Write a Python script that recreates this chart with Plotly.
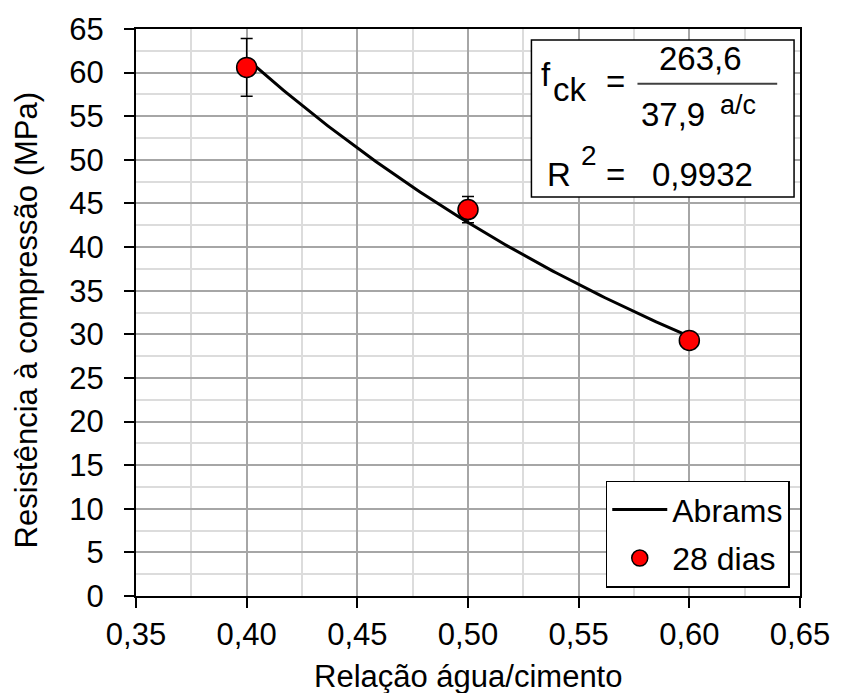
import numpy as np
import plotly.graph_objects as go

# Measured compressive strength at 28 days versus water/cement ratio
ac_ratio = [0.40, 0.50, 0.60]
fc_28 = [60.6, 44.3, 29.3]
fc_28_err = [3.3, 1.5, 0.0]

# Abrams' law fit: fck = A / B^(a/c)
abrams_A = 263.6
abrams_B = 37.9
abrams_r2 = 0.9932

x_tickvals = [0.35, 0.40, 0.45, 0.50, 0.55, 0.60, 0.65]
y_tickvals = list(range(0, 70, 5))

FONT = "Liberation Sans, Arial, sans-serif"
FS = 31
FS_EQ = 33

x_fit = np.linspace(min(ac_ratio), max(ac_ratio), 121)
y_fit = abrams_A / abrams_B ** x_fit

fig = go.Figure()
fig.add_trace(go.Scatter(
    x=x_fit, y=y_fit, mode="lines", name="Abrams",
    line=dict(color="black", width=3),
    legendgroup="a",
))
fig.add_trace(go.Scatter(
    x=ac_ratio, y=fc_28, mode="markers", name="28 dias",
    marker=dict(color="#ff0000", size=20, line=dict(color="black", width=1.5)),
    error_y=dict(type="data", array=fc_28_err, visible=True,
                 color="black", thickness=1.5, width=6),
    legendgroup="b",
))

# plot area in pixels: x 136..806, y 26..596
L, R, T, B = 136, 806, 26, 596
W, H = R - L, B - T


def px(x):
    return (x - L) / W


def py(y):
    return (B - y) / H


def txt(x, y, s, size=FS_EQ, xanchor="center"):
    return dict(x=px(x), y=py(y), xref="paper", yref="paper", text=s,
                showarrow=False, xanchor=xanchor, yanchor="middle",
                font=dict(family=FONT, size=size, color="black"))


def dec(v, n):
    return f"{v:.{n}f}".replace(".", ",")


annotations = [
    # axis titles
    txt((L + R) / 2, 677, "Relação água/cimento", size=FS),
    dict(x=px(25), y=py(318), xref="paper", yref="paper",
         text="Resistência à compressão (MPa)", textangle=-90,
         showarrow=False, xanchor="center", yanchor="middle",
         font=dict(family=FONT, size=FS, color="black")),
    # equation box
    txt(550, 72, "f"),
    txt(574, 87, "ck"),
    txt(620, 79, "="),
    txt(706, 56, dec(abrams_A, 1)),
    txt(678, 112, dec(abrams_B, 1)),
    txt(743, 102, "a/c", size=27),
    txt(563, 172, "R"),
    txt(593, 153, "2", size=28),
    txt(620, 172, "="),
    txt(708, 172, dec(abrams_r2, 4)),
]

shapes = [
    dict(type="rect", xref="paper", yref="paper",
         x0=px(535), x1=px(800), y0=py(195), y1=py(37),
         line=dict(color="black", width=1.5), fillcolor="white", layer="above"),
    dict(type="line", xref="paper", yref="paper",
         x0=px(642), x1=px(783), y0=py(81), y1=py(81),
         line=dict(color="#404040", width=2), layer="above"),
]

axis_common = dict(
    showline=True, linecolor="black", linewidth=2, mirror=True,
    ticks="outside", ticklen=10, tickwidth=2, tickcolor="black",
    showgrid=True, gridcolor="#a6a6a6", gridwidth=1.5,
    zeroline=False,
    tickfont=dict(family=FONT, size=FS, color="black"),
)

fig.update_layout(
    width=842, height=693,
    margin=dict(l=L, r=842 - R, t=T, b=693 - B),
    paper_bgcolor="white", plot_bgcolor="white",
    separators=", ",
    font=dict(family=FONT, size=FS, color="black"),
    xaxis=dict(range=[0.35, 0.65], tickvals=x_tickvals, tickformat=".2f",
               ticklabelstandoff=0,
               minor=dict(dtick=0.025, tick0=0.35, showgrid=True,
                          gridcolor="#dcdcdc", gridwidth=1.5, ticks=""),
               **axis_common),
    yaxis=dict(range=[0, 65], tickvals=y_tickvals,
               ticklabelstandoff=14,
               minor=dict(dtick=2.5, tick0=0, showgrid=True,
                          gridcolor="#dcdcdc", gridwidth=1.5, ticks=""),
               **axis_common),
    showlegend=True,
    legend=dict(x=px(610), y=py(480), xanchor="left", yanchor="top",
                bgcolor="white", bordercolor="black", borderwidth=1.5,
                font=dict(family=FONT, size=32, color="black"),
                traceorder="grouped", tracegroupgap=4, itemwidth=55),
    annotations=annotations,
    shapes=shapes,
)

fig.write_html("out.html")
